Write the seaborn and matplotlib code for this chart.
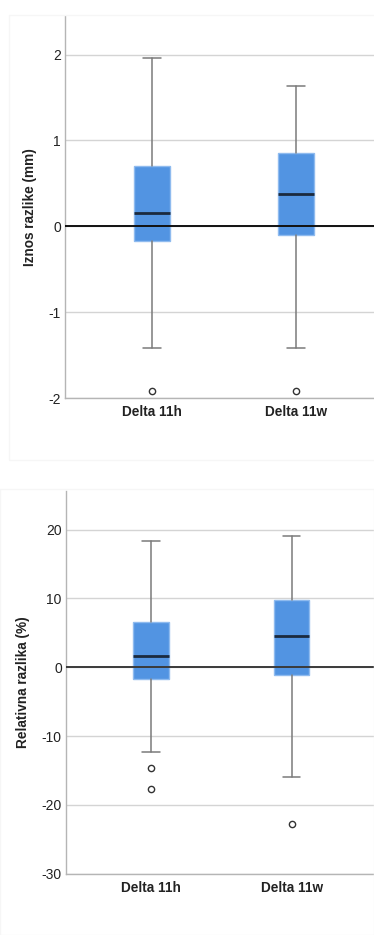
import matplotlib
matplotlib.use("Agg")
import matplotlib.pyplot as plt
import seaborn as sns
import pandas as pd
from matplotlib.patches import Rectangle

# Box summaries per group: whisker low, Q1, median, Q3, whisker high, outliers
groups = ["Delta 11h", "Delta 11w"]

mm_whislo = [-1.42, -1.42]
mm_q1 = [-0.175, -0.10]
mm_med = [0.155, 0.38]
mm_q3 = [0.70, 0.85]
mm_whishi = [1.96, 1.64]
mm_out = [[-1.92], [-1.92]]

pct_whislo = [-12.35, -15.9]
pct_q1 = [-1.65, -1.1]
pct_med = [1.6, 4.5]
pct_q3 = [6.5, 9.7]
pct_whishi = [18.3, 19.1]
pct_out = [[-14.7, -17.7], [-22.8]]

mm_ticks = [-2, -1, 0, 1, 2]
pct_ticks = [-30, -20, -10, 0, 10, 20]

sns.set_style("white")
plt.rcParams["font.family"] = ["Liberation Sans", "DejaVu Sans"]

BOX = "#5294e2"
BOX_EDGE = "#8fbbef"
MED = "#1b2a3e"
WHISK = "#7a7a7a"
GRID = "#d4d4d4"
TXT = "#222222"

fig = plt.figure(figsize=(3.74, 9.35), dpi=100)

# faint card outlines behind each chart
fig.patches.append(Rectangle((9 / 374, 1 - 460 / 935), 1.0, 445 / 935,
                             transform=fig.transFigure, fill=False,
                             edgecolor="#f6f6f6", linewidth=1.0))
fig.patches.append(Rectangle((0.0, 1 - 935 / 935), 1.0, 446 / 935,
                             transform=fig.transFigure, fill=False,
                             edgecolor="#f6f6f6", linewidth=1.0))


def draw(ax, lo, q1, med, q3, hi, outs, ticks, ylim, xlim, ylabel, zero_color):
    stats = []
    for i, g in enumerate(groups):
        stats.append(dict(label=g, whislo=lo[i], q1=q1[i], med=med[i],
                          q3=q3[i], whishi=hi[i], fliers=[]))
    for t in ticks:
        ax.axhline(t, color=GRID, lw=1.0, zorder=0)
    ax.bxp(stats, positions=[0, 1], widths=0.25, patch_artist=True,
           showfliers=False,
           boxprops=dict(facecolor=BOX, edgecolor=BOX_EDGE, linewidth=1.0),
           medianprops=dict(color=MED, linewidth=2.0),
           whiskerprops=dict(color=WHISK, linewidth=1.1),
           capprops=dict(color=WHISK, linewidth=1.1),
           capwidths=0.125, manage_ticks=False)
    ax.axhline(0, color=zero_color, lw=1.4, zorder=5)
    # outliers
    ox, oy = [], []
    for i, g in enumerate(groups):
        for v in outs[i]:
            ox.append(g)
            oy.append(v)
    df = pd.DataFrame({"group": ox, "value": oy})
    sns.stripplot(data=df, x="group", y="value", order=groups, jitter=False,
                  marker="o", size=4.5, facecolor="white", edgecolor="#333333",
                  linewidth=1.0, ax=ax, zorder=6)
    ax.set_xlim(*xlim)
    ax.set_ylim(*ylim)
    ax.set_yticks(ticks)
    ax.set_yticklabels([str(t) for t in ticks], fontsize=10, color=TXT)
    ax.set_xticks([0, 1])
    ax.set_xticklabels(groups, fontsize=9.8, fontweight="bold", color=TXT)
    ax.tick_params(axis="both", length=0)
    ax.tick_params(axis="y", pad=3)
    ax.tick_params(axis="x", pad=5)
    ax.set_xlabel("")
    ax.set_ylabel(ylabel, fontsize=9.8, fontweight="bold", color=TXT, labelpad=8)
    for s in ["top", "right"]:
        ax.spines[s].set_visible(False)
    for s in ["left", "bottom"]:
        ax.spines[s].set_color("#b5b5b5")
        ax.spines[s].set_linewidth(1.0)


ax1 = fig.add_axes([65 / 374, 1 - 398 / 935, 1 - 65 / 374, 382 / 935])
draw(ax1, mm_whislo, mm_q1, mm_med, mm_q3, mm_whishi, mm_out, mm_ticks,
     (-2, 2.45), (-0.604, 1.54), "Iznos razlike (mm)", "#111111")

ax2 = fig.add_axes([66 / 374, 1 - 873.7 / 935, 1 - 66 / 374, 382.7 / 935])
draw(ax2, pct_whislo, pct_q1, pct_med, pct_q3, pct_whishi, pct_out, pct_ticks,
     (-30, 25.6), (-0.604, 1.585), "Relativna razlika (%)", "#3a3a3a")

fig.savefig("out.png", dpi=100, facecolor="white")
